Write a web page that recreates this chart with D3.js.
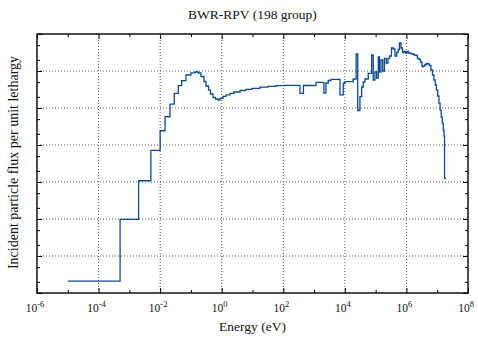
<!DOCTYPE html>
<html>
<head>
<meta charset="utf-8">
<script src="https://cdn.jsdelivr.net/npm/d3@7"></script>
<style>
  html, body { margin: 0; padding: 0; background: #fff; }
  svg { display: block; font-family: "Liberation Serif", "Times New Roman", serif; }
</style>
</head>
<body>
<svg id="chart" width="478" height="338"></svg>
<script>
// Group energy boundaries (eV), ascending: lower edge of each group plus the top edge
const energyBounds = [
  1e-5, 5e-4, 2e-3, 5e-3, 1e-2, 1.44e-2, 2.09e-2, 2.88e-2, 3.88e-2, 5.0e-2,
  6.9e-2, 0.1, 0.136, 0.173, 0.212, 0.265, 0.308, 0.372, 0.431, 0.52,
  0.627, 0.756, 0.878, 1.10, 1.375, 1.85, 2.50, 3.92, 6.14, 9.6,
  17.5, 31.8, 57.8, 105, 191, 348, 452, 1150, 2090, 2430,
  2890, 3540, 6940, 8880, 1.007e4, 1.87e4, 2.33e4, 2.62e4, 3.09e4, 3.51e4,
  3.96e4, 4.49e4, 5.75e4, 7.42e4, 8.36e4, 9.5e4, 1.08e5, 1.22e5, 1.33e5, 1.49e5,
  1.70e5, 1.93e5, 2.21e5, 2.51e5, 2.85e5, 3.26e5, 3.73e5, 4.24e5, 4.81e5, 5.42e5,
  5.93e5, 6.64e5, 7.43e5, 8.31e5, 9.3e5, 1.04e6, 1.16e6, 1.30e6, 1.51e6, 1.75e6,
  2.04e6, 2.28e6, 2.55e6, 2.85e6, 3.19e6, 3.57e6, 3.99e6, 4.47e6, 5.0e6, 5.59e6,
  6.26e6, 7.0e6, 7.83e6, 8.63e6, 9.44e6, 1.04e7, 1.14e7, 1.24e7, 1.35e7, 1.46e7,
  1.57e7, 1.66e7, 1.73e7, 1.964e7
];

// Group-averaged flux per unit lethargy (arbitrary units), one value per group
const flux = [
  2.1e-3, 0.098, 1.08, 7.2, 24.3, 58, 128, 250, 401, 547,
  780, 893, 940, 883, 710, 520, 393, 306, 239, 192,
  175, 164, 181, 205, 225, 247, 271, 297, 320, 341,
  365, 386, 401, 411, 408, 247, 405, 495, 254, 474,
  553, 597, 225, 466, 514, 608, 2877, 85.5, 202, 370,
  505, 608, 867, 2704, 571, 940, 647, 2388, 940, 1982,
  1000, 2178, 1644, 2178, 2542, 4186, 3936, 2542, 3162, 3812,
  5714, 4186, 3162, 3405, 3064, 3365, 3064, 2973, 2877, 2704,
  2623, 2178, 2049, 1749, 1323, 1365, 1500, 1596, 1546, 1409,
  1064, 780, 571, 419, 306, 211, 136, 88, 57, 39,
  25.4, 17.5, 1.26
];

// Axis ticks
const xMajorExp = [-6, -4, -2, 0, 2, 4, 6, 8];
const xMinorExp = [-5, -3, -1, 1, 3, 5, 7];
const yMajorExp = [-3, -2, -1, 0, 1, 2, 3, 4];
const yMinorMult = [2, 5];

const titleText = "BWR-RPV (198 group)";
const xLabel = "Energy (eV)";
const yLabel = "Incident particle flux per unit lethargy";

const W = 478, H = 338;
const margin = { top: 34, right: 10, bottom: 45, left: 37 };
const plotW = W - margin.left - margin.right;
const plotH = H - margin.top - margin.bottom;

const svg = d3.select("#chart");

const x = d3.scaleLog().domain([1e-6, 1e8]).range([margin.left, margin.left + plotW]);
const y = d3.scaleLog().domain([1e-3, 1e4]).range([margin.top + plotH, margin.top]);

const xMajor = xMajorExp.map(e => Math.pow(10, e));
const xMinor = xMinorExp.map(e => Math.pow(10, e));
const yMajor = yMajorExp.map(e => Math.pow(10, e));
const yMinor = [];
yMajorExp.slice(0, -1).forEach(e => yMinorMult.forEach(m => yMinor.push(m * Math.pow(10, e))));

// Dotted grid
const grid = svg.append("g").attr("class", "grid")
  .attr("stroke", "#444").attr("stroke-width", 0.9).attr("stroke-dasharray", "1,2");
grid.selectAll("line.gx").data(xMajor.slice(1, -1)).join("line")
  .attr("x1", d => x(d)).attr("x2", d => x(d))
  .attr("y1", margin.top).attr("y2", margin.top + plotH);
grid.selectAll("line.gy").data(yMajor.slice(1, -1)).join("line")
  .attr("y1", d => y(d)).attr("y2", d => y(d))
  .attr("x1", margin.left).attr("x2", margin.left + plotW);

// Flux spectrum as a histogram-style step line
const pts = flux.map((v, i) => [energyBounds[i], v]);
pts.push([energyBounds[energyBounds.length - 1], flux[flux.length - 1]]);
const line = d3.line()
  .x(d => x(d[0]))
  .y(d => y(d[1]))
  .curve(d3.curveStepAfter);
svg.append("path")
  .datum(pts)
  .attr("fill", "none")
  .attr("stroke", "#0d4b91")
  .attr("stroke-width", 1.3)
  .attr("stroke-linejoin", "miter")
  .attr("d", line);

// Axes with inward ticks on all four sides
function drawAxis(gen, transform, major, minor, majorLen, minorLen) {
  const g1 = svg.append("g").attr("transform", transform)
    .call(gen.tickValues(major).tickSize(-majorLen).tickFormat(""));
  const g2 = svg.append("g").attr("transform", transform)
    .call(gen.tickValues(minor).tickSize(-minorLen).tickFormat(""));
  [g1, g2].forEach(g => {
    g.select(".domain").remove();
    g.selectAll(".tick line").attr("stroke", "#000").attr("stroke-width", 1);
  });
}
drawAxis(d3.axisBottom(x), `translate(0,${margin.top + plotH})`, xMajor, xMinor, 5, 3);
drawAxis(d3.axisTop(x), `translate(0,${margin.top})`, xMajor, xMinor, 5, 3);
drawAxis(d3.axisLeft(y), `translate(${margin.left},0)`, yMajor, yMinor, 5, 3);
drawAxis(d3.axisRight(y), `translate(${margin.left + plotW},0)`, yMajor, yMinor, 5, 3);

// Frame
svg.append("rect")
  .attr("x", margin.left).attr("y", margin.top)
  .attr("width", plotW).attr("height", plotH)
  .attr("fill", "none").attr("stroke", "#000").attr("stroke-width", 1.4);

// Power-of-ten tick labels
const labels = svg.append("g").attr("font-size", 11.5).attr("fill", "#111");
xMajorExp.forEach(e => {
  const t = labels.append("text")
    .attr("x", x(Math.pow(10, e)) - 2)
    .attr("y", margin.top + plotH + 19)
    .attr("text-anchor", "middle");
  t.append("tspan").text("10");
  t.append("tspan").attr("font-size", 8.5).attr("dy", -5.5).text(String(e));
});

// Title and axis titles
svg.append("text")
  .attr("x", margin.left + plotW / 2).attr("y", 18.5)
  .attr("text-anchor", "middle").attr("font-size", 13.5).attr("fill", "#111")
  .text(titleText);
svg.append("text")
  .attr("x", margin.left + plotW / 2).attr("y", 331)
  .attr("text-anchor", "middle").attr("font-size", 13.5).attr("fill", "#111")
  .text(xLabel);
svg.append("text")
  .attr("transform", `translate(18,${margin.top + plotH / 2 - 1}) rotate(-90)`)
  .attr("text-anchor", "middle").attr("font-size", 14).attr("fill", "#111")
  .text(yLabel);
</script>
</body>
</html>
